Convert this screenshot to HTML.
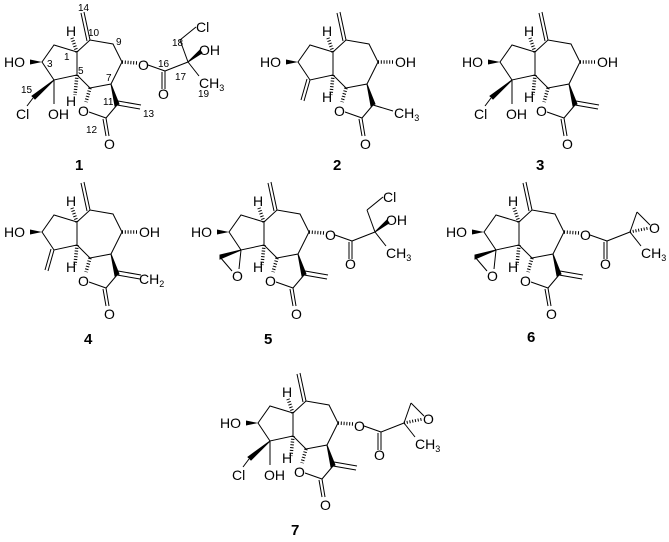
<!DOCTYPE html>
<html><head><meta charset="utf-8"><style>
html,body{margin:0;padding:0;background:#fff}
svg{display:block}
text{font-family:"Liberation Sans",sans-serif;font-size:14px;fill:#000}
.n{font-size:10px}
.b{font-size:15px;font-weight:bold}
.s{font-size:9px}
</style></head><body>
<svg width="669" height="542" viewBox="0 0 669 542" xmlns="http://www.w3.org/2000/svg">
<defs>
<g id="core" stroke="#000" stroke-width="1" fill="none">
 <polyline points="77,52 54,45 42,62 54,80 77,75 77,52 90,40 113,44 122,62 111,84 90,88 77,75"/>
 <line x1="90" y1="40" x2="84" y2="12"/><line x1="87" y1="41" x2="81" y2="13"/>
 <line x1="89" y1="112" x2="106" y2="118"/><line x1="106" y1="118" x2="117" y2="105"/>
 <line x1="106" y1="118" x2="109" y2="136"/><line x1="103" y1="119" x2="106" y2="136"/>
 <polygon points="111,84 115,106 119,104" fill="#000"/>
 <line x1="77" y1="52" x2="72" y2="38" stroke-width="3.5" stroke-dasharray="1 1.8"/>
 <line x1="77" y1="75" x2="75" y2="95" stroke-width="3.5" stroke-dasharray="1 1.8"/>
 <line x1="90" y1="88" x2="86" y2="102" stroke-width="3.5" stroke-dasharray="1 1.8"/>
 <polygon points="42,62 30,59.5 30,64.5" fill="#000" stroke="none"/>
</g>
<g id="c13" stroke="#000" stroke-width="1"><line x1="117" y1="105" x2="140" y2="109"/><line x1="118" y1="101" x2="141" y2="105"/></g>
<g id="cloh" stroke="#000" stroke-width="1" fill="none">
 <polygon points="54,80 32,96 35,99" fill="#000"/>
 <line x1="33" y1="98" x2="27" y2="106"/><line x1="54" y1="80" x2="54" y2="104"/>
</g>
<g id="exo" stroke="#000" stroke-width="1"><line x1="54" y1="80" x2="48" y2="101"/><line x1="51" y1="79" x2="45" y2="100"/></g>
<g id="oh8" stroke="#000"><line x1="122" y1="62" x2="137" y2="62" stroke-width="3.5" stroke-dasharray="1 1.8"/></g>
<g id="est" stroke="#000" stroke-width="1" fill="none">
 <line x1="148" y1="65" x2="165" y2="71"/><line x1="165" y1="71" x2="188" y2="62"/>
 <line x1="165" y1="71" x2="165" y2="89"/><line x1="162" y1="72" x2="162" y2="89"/>
 <line x1="188" y1="62" x2="199" y2="76"/>
</g>
<g id="estcl" stroke="#000" stroke-width="1" fill="none">
 <line x1="188" y1="62" x2="180" y2="40"/><line x1="180" y1="40" x2="196" y2="27"/>
 <polygon points="188,62 200,50 202,53" fill="#000"/>
</g>
<g id="estep" stroke="#000" stroke-width="1" fill="none">
 <line x1="188" y1="62" x2="195" y2="42"/><line x1="195" y1="42" x2="208" y2="55"/>
 <line x1="188" y1="62" x2="207" y2="58" stroke-width="3" stroke-dasharray="1 1.8"/>
</g>
<g id="ep4" stroke="#000" stroke-width="1" fill="none">
 <polygon points="54,80 33,85 33,89" fill="#000"/>
 <line x1="33" y1="87" x2="45" y2="101"/><line x1="54" y1="80" x2="52" y2="99"/>
</g>
</defs>

<!-- 1 -->
<g>
<use href="#core"/><use href="#c13"/><use href="#cloh"/><use href="#est"/><use href="#estcl"/>
<line x1="122" y1="62" x2="137" y2="63" stroke="#000" stroke-width="3.5" stroke-dasharray="1 1.8"/>
<text x="4" y="67">HO</text><text x="66" y="36">H</text><text x="66" y="106">H</text>
<text x="16" y="119">Cl</text><text x="48" y="119">OH</text><text x="78" y="116">O</text><text x="104" y="149">O</text>
<text x="138" y="70">O</text><text x="158" y="99">O</text><text x="196" y="32">Cl</text><text x="199" y="55">OH</text>
<text x="199" y="88">CH<tspan class="s" dy="3">3</tspan></text>
<text class="n" x="78" y="11">14</text><text class="n" x="88" y="36">10</text><text class="n" x="116" y="45">9</text>
<text class="n" x="64" y="60">1</text><text class="n" x="47" y="67">3</text><text class="n" x="78" y="74">5</text>
<text class="n" x="106" y="81">7</text><text class="n" x="103" y="105">11</text><text class="n" x="143" y="117">13</text>
<text class="n" x="86" y="133">12</text><text class="n" x="21" y="93">15</text><text class="n" x="158" y="67">16</text>
<text class="n" x="175" y="80">17</text><text class="n" x="172" y="46">18</text><text class="n" x="198" y="97">19</text>
<text class="b" x="75" y="170">1</text>
</g>

<!-- 2 -->
<g transform="translate(256,0)">
<use href="#core"/><use href="#exo"/><use href="#oh8"/>
<line x1="117" y1="105" x2="137" y2="111" stroke="#000"/>
<text x="4" y="67">HO</text><text x="66" y="36">H</text><text x="66" y="102">H</text>
<text x="78" y="116">O</text><text x="104" y="149">O</text><text x="139" y="67">OH</text>
<text x="138" y="118">CH<tspan class="s" dy="3">3</tspan></text>
<text class="b" x="77" y="170">2</text>
</g>

<!-- 3 -->
<g transform="translate(458,0)">
<use href="#core"/><use href="#c13"/><use href="#cloh"/><use href="#oh8"/>
<text x="4" y="67">HO</text><text x="66" y="36">H</text><text x="66" y="102">H</text>
<text x="16" y="119">Cl</text><text x="48" y="119">OH</text><text x="78" y="116">O</text><text x="104" y="149">O</text>
<text x="139" y="67">OH</text>
<text class="b" x="78" y="170">3</text>
</g>

<!-- 4 -->
<g transform="translate(0,170)">
<use href="#core"/><use href="#exo"/><use href="#oh8"/><use href="#c13"/>
<text x="4" y="67">HO</text><text x="66" y="36">H</text><text x="66" y="102">H</text>
<text x="78" y="116">O</text><text x="104" y="149">O</text><text x="139" y="67">OH</text>
<text x="139" y="114">CH<tspan class="s" dy="3">2</tspan></text>
<text class="b" x="84" y="174">4</text>
</g>

<!-- 5 -->
<g transform="translate(187,170)">
<use href="#core"/><use href="#c13"/><use href="#ep4"/><use href="#est"/><use href="#estcl"/>
<line x1="122" y1="62" x2="137" y2="63" stroke="#000" stroke-width="3.5" stroke-dasharray="1 1.8"/>
<text x="4" y="67">HO</text><text x="66" y="36">H</text><text x="66" y="102">H</text>
<text x="45" y="111">O</text><text x="78" y="116">O</text><text x="104" y="149">O</text>
<text x="138" y="70">O</text><text x="158" y="99">O</text><text x="196" y="32">Cl</text><text x="199" y="55">OH</text>
<text x="199" y="88">CH<tspan class="s" dy="3">3</tspan></text>
<text class="b" x="77" y="174">5</text>
</g>

<!-- 6 -->
<g transform="translate(442,170)">
<use href="#core"/><use href="#c13"/><use href="#ep4"/><use href="#est"/><use href="#estep"/>
<line x1="122" y1="62" x2="137" y2="63" stroke="#000" stroke-width="3.5" stroke-dasharray="1 1.8"/>
<text x="4" y="67">HO</text><text x="66" y="36">H</text><text x="66" y="102">H</text>
<text x="45" y="111">O</text><text x="78" y="116">O</text><text x="104" y="149">O</text>
<text x="138" y="70">O</text><text x="158" y="99">O</text><text x="207" y="63">O</text>
<text x="199" y="88">CH<tspan class="s" dy="3">3</tspan></text>
<text class="b" x="85" y="172">6</text>
</g>

<!-- 7 -->
<g transform="translate(216,361)">
<use href="#core"/><use href="#c13"/><use href="#cloh"/><use href="#est"/><use href="#estep"/>
<line x1="122" y1="62" x2="137" y2="63" stroke="#000" stroke-width="3.5" stroke-dasharray="1 1.8"/>
<text x="4" y="67">HO</text><text x="66" y="36">H</text><text x="66" y="102">H</text>
<text x="16" y="119">Cl</text><text x="48" y="119">OH</text><text x="78" y="116">O</text><text x="104" y="149">O</text>
<text x="138" y="70">O</text><text x="158" y="99">O</text><text x="207" y="63">O</text>
<text x="199" y="88">CH<tspan class="s" dy="3">3</tspan></text>
<text class="b" x="75" y="174">7</text>
</g>
</svg>
</body></html>
